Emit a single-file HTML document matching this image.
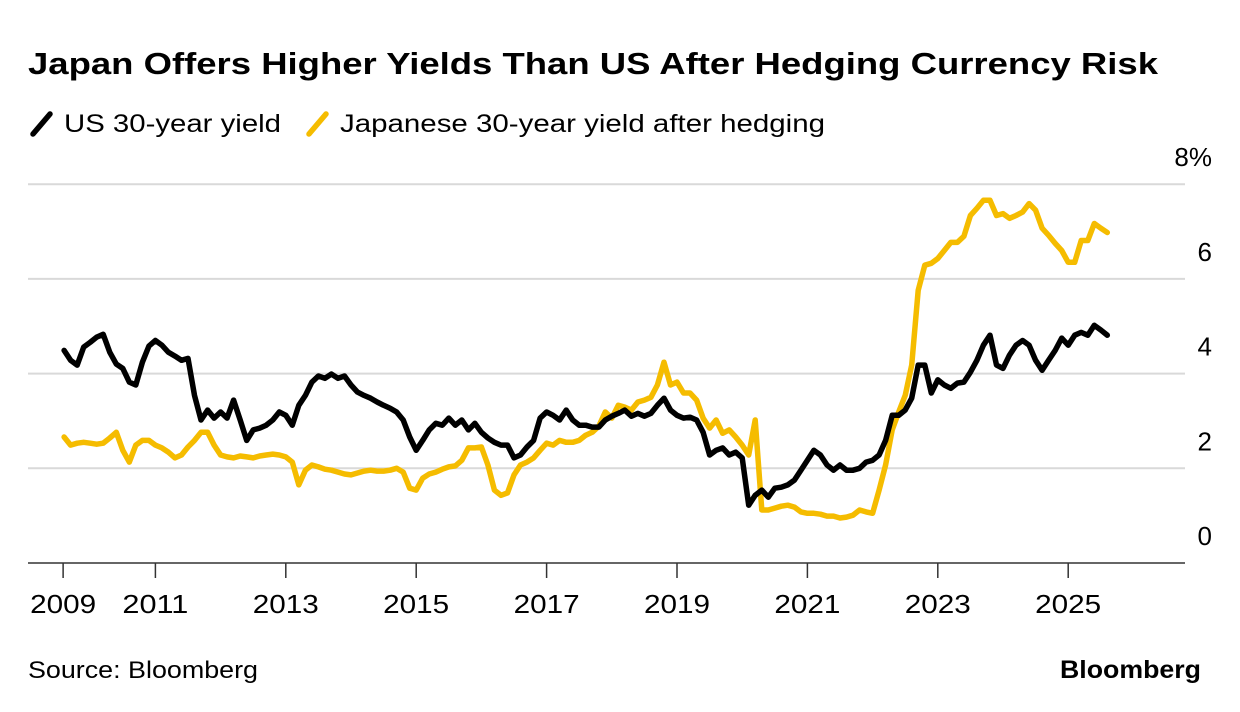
<!DOCTYPE html>
<html><head><meta charset="utf-8"><style>
body{margin:0;background:#fff;width:1240px;height:712px;overflow:hidden;font-family:"Liberation Sans",Arial,sans-serif;}
svg{display:block}
</style></head><body>
<svg width="1240" height="712">
<text x="28" y="74" font-size="31" font-weight="bold" fill="#000" textLength="1130" lengthAdjust="spacingAndGlyphs">Japan Offers Higher Yields Than US After Hedging Currency Risk</text>
<g>
<line x1="33" y1="134" x2="50" y2="114" stroke="#000" stroke-width="5.5" stroke-linecap="round"/>
<text x="64" y="132" font-size="25" fill="#000" textLength="217" lengthAdjust="spacingAndGlyphs">US 30-year yield</text>
<line x1="309" y1="134" x2="326" y2="114" stroke="#f5bc00" stroke-width="5.5" stroke-linecap="round"/>
<text x="340" y="132" font-size="25" fill="#000" textLength="485" lengthAdjust="spacingAndGlyphs">Japanese 30-year yield after hedging</text>
</g>
<g id="grid"></g>
<g id="series"></g>
<g id="xaxis"></g>
<text x="28" y="678" font-size="24" fill="#000" textLength="230" lengthAdjust="spacingAndGlyphs">Source: Bloomberg</text>
<text x="1201" y="678" font-size="25" font-weight="bold" text-anchor="end" fill="#000" textLength="141" lengthAdjust="spacingAndGlyphs">Bloomberg</text>
</svg>
<script>
const yTicks=[0,2,4,6,8];
const yTickLabels=["0","2","4","6","8%"];
const xTickYears=[2009,2011,2013,2015,2017,2019,2021,2023,2025];
const startYear=2009.6;
const stepYears=0.1;
const usYield=[4.49,4.28,4.18,4.56,4.66,4.77,4.83,4.45,4.20,4.11,3.82,3.76,4.24,4.58,4.70,4.60,4.45,4.37,4.28,4.32,3.54,3.02,3.23,3.06,3.19,3.06,3.44,3.02,2.59,2.81,2.85,2.91,3.02,3.19,3.12,2.91,3.33,3.54,3.82,3.95,3.90,3.99,3.90,3.95,3.76,3.61,3.54,3.48,3.40,3.33,3.27,3.19,3.02,2.66,2.38,2.59,2.81,2.95,2.91,3.06,2.91,3.02,2.81,2.95,2.76,2.64,2.55,2.49,2.49,2.22,2.28,2.45,2.59,3.06,3.19,3.12,3.02,3.23,3.02,2.91,2.91,2.87,2.87,3.02,3.10,3.16,3.23,3.10,3.16,3.10,3.16,3.33,3.48,3.23,3.12,3.06,3.08,3.02,2.76,2.28,2.38,2.43,2.28,2.34,2.22,1.22,1.43,1.54,1.39,1.58,1.60,1.65,1.75,1.96,2.17,2.38,2.28,2.07,1.96,2.07,1.96,1.96,2.00,2.13,2.17,2.28,2.59,3.12,3.12,3.23,3.48,4.18,4.18,3.59,3.87,3.76,3.69,3.80,3.82,4.03,4.28,4.60,4.81,4.18,4.11,4.39,4.60,4.70,4.60,4.28,4.07,4.28,4.49,4.75,4.60,4.81,4.87,4.81,5.02,4.92,4.81];
const jpYield=[2.66,2.49,2.53,2.55,2.53,2.51,2.53,2.64,2.76,2.38,2.13,2.49,2.59,2.59,2.49,2.43,2.34,2.22,2.28,2.45,2.59,2.76,2.76,2.49,2.28,2.24,2.22,2.26,2.24,2.22,2.26,2.28,2.30,2.28,2.24,2.13,1.65,1.96,2.07,2.03,1.98,1.96,1.92,1.88,1.86,1.90,1.94,1.96,1.94,1.94,1.96,2.00,1.92,1.58,1.54,1.79,1.88,1.92,1.98,2.03,2.05,2.17,2.43,2.43,2.45,2.07,1.54,1.43,1.48,1.86,2.07,2.13,2.22,2.38,2.53,2.49,2.59,2.55,2.55,2.59,2.70,2.76,2.89,3.19,3.06,3.33,3.29,3.23,3.40,3.44,3.50,3.76,4.24,3.76,3.82,3.59,3.59,3.44,3.06,2.85,3.02,2.74,2.81,2.66,2.49,2.28,3.02,1.12,1.12,1.16,1.20,1.22,1.18,1.08,1.05,1.05,1.03,0.99,0.99,0.95,0.97,1.01,1.12,1.08,1.05,1.54,2.07,2.81,3.19,3.54,4.18,5.76,6.29,6.33,6.43,6.60,6.77,6.77,6.90,7.34,7.49,7.66,7.66,7.34,7.38,7.28,7.34,7.41,7.59,7.45,7.07,6.92,6.75,6.60,6.35,6.35,6.81,6.81,7.17,7.07,6.98];

const NS="http://www.w3.org/2000/svg";
const X0=28,X1=1185;
function xScale(t){return 25+(t-2009)*65.2;}
function yScale(v){return 563-v*47.35;}
function mk(tag,attrs,parent){const e=document.createElementNS(NS,tag);for(const k in attrs)e.setAttribute(k,attrs[k]);parent.appendChild(e);return e;}
const grid=document.getElementById('grid');
yTicks.forEach((v,i)=>{
  if(v>0){
    const l=mk('line',{x1:X0,x2:X1,y1:yScale(v),y2:yScale(v),stroke:'#d9d9d9','stroke-width':2},grid);
    
    
  }
  const t=mk('text',{x:1212,y:yScale(v)-18,'font-size':26,'text-anchor':'end',fill:'#000'},grid);
  t.textContent=yTickLabels[i];
  
  
});
const series=document.getElementById('series');
function pathFor(arr){return arr.map((v,i)=>(i?'L':'M')+xScale(startYear+i*stepYears).toFixed(1)+','+yScale(v).toFixed(1)).join('');}
const pj=mk('path',{d:pathFor(jpYield),fill:'none',stroke:'#f5bc00','stroke-width':5.5,'stroke-linejoin':'round','stroke-linecap':'round'},series);


const pu=mk('path',{d:pathFor(usYield),fill:'none',stroke:'#000','stroke-width':5.5,'stroke-linejoin':'round','stroke-linecap':'round'},series);


const xa=document.getElementById('xaxis');
const ax=mk('line',{x1:X0,x2:X1,y1:563,y2:563,stroke:'#333','stroke-width':1.5},xa);


xTickYears.forEach((yr,i)=>{
  const x=i===0?xScale(startYear)-1:xScale(yr);
  const tk=mk('line',{x1:x,x2:x,y1:563,y2:578,stroke:'#333','stroke-width':1.5},xa);
  
  
  const t=mk('text',{x:x,y:613,'font-size':26,'text-anchor':'middle',fill:'#000',textLength:66,lengthAdjust:'spacingAndGlyphs'},xa);
  t.textContent=yr;
  
  
});
</script>
</body></html>
